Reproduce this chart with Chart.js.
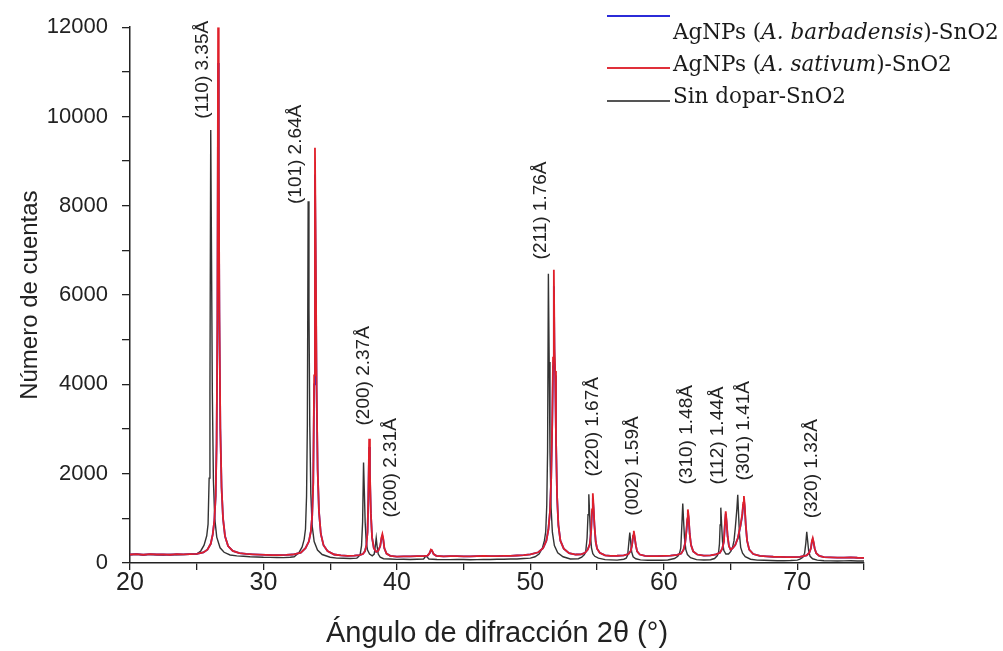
<!DOCTYPE html>
<html>
<head>
<meta charset="utf-8">
<script src="https://cdn.jsdelivr.net/npm/chart.js@4.4.1/dist/chart.umd.min.js"></script>
<style>
  html, body { margin: 0; padding: 0; background: #fff; }
  #wrap { position: relative; width: 1003px; height: 651px; }
  canvas { position: absolute; left: 0; top: 0; }
  .lg { position: absolute; font-family: "DejaVu Serif", "Liberation Serif", serif; font-size: 21.5px; color: #1a1a1a; white-space: nowrap; line-height: 1; }
  .ls { position: absolute; height: 0; border-top: 2px solid; width: 63px; left: 607px; }
</style>
</head>
<body>
<div id="wrap">
  <canvas id="c" width="1003" height="651"></canvas>
  <div class="ls" style="top:15px;border-color:#2b2bd8"></div>
  <div class="ls" style="top:67px;border-color:#e0303a"></div>
  <div class="ls" style="top:100px;border-color:#555"></div>
  <div class="lg" style="left:673px;top:21px">AgNPs (<i>A. barbadensis</i>)-SnO2</div>
  <div class="lg" style="left:673px;top:53px">AgNPs (<i>A. sativum</i>)-SnO2</div>
  <div class="lg" style="left:673px;top:85px">Sin dopar-SnO2</div>
</div>
<script>
// ---- Data: [2θ (°), counts] ----
const seriesNames = ["AgNPs (A. barbadensis)-SnO2", "AgNPs (A. sativum)-SnO2", "Sin dopar-SnO2"];

const sinDopar = [[20.0,185],[20.5,195],[21.0,180],[21.5,192],[22.0,185],[22.5,178],[23.0,190],[23.5,182],[24.0,188],[24.5,195],[25.0,200],[25.3,270],[25.55,400],[25.75,610],[25.85,870],[25.93,1900],[25.99,3800],[26.05,9700],[26.11,6800],[26.17,3800],[26.25,1850],[26.35,1000],[26.5,580],[26.75,340],[27.05,240],[27.5,180],[28.0,160],[28.5,150],[29.0,140],[29.5,135],[30.0,128],[30.5,125],[31.0,122],[31.5,120],[32.0,128],[32.3,140],[32.65,230],[32.9,360],[33.05,530],[33.15,760],[33.23,1500],[33.29,3100],[33.35,8100],[33.41,5700],[33.47,3100],[33.55,1550],[33.65,830],[33.8,480],[34.05,290],[34.4,190],[35.0,130],[35.5,110],[36.0,105],[36.5,100],[37.0,110],[37.15,150],[37.25,200],[37.35,390],[37.43,920],[37.5,2250],[37.56,1600],[37.62,920],[37.7,480],[37.8,290],[37.95,200],[38.15,160],[38.3,200],[38.39,400],[38.45,560],[38.51,390],[38.6,200],[38.75,130],[39.0,95],[39.5,88],[40.0,82],[40.5,85],[41.0,80],[41.5,84],[42.0,90],[42.15,150],[42.25,140],[42.4,90],[43.0,80],[43.5,76],[44.0,75],[44.5,78],[45.0,80],[45.5,74],[46.0,75],[46.5,79],[47.0,80],[47.5,83],[48.0,85],[48.5,88],[49.0,90],[49.5,100],[50.0,110],[50.35,140],[50.65,200],[50.9,330],[51.05,500],[51.15,700],[51.23,1300],[51.29,2500],[51.35,6480],[51.41,4500],[51.47,2500],[51.55,1250],[51.65,690],[51.8,390],[52.05,230],[52.45,140],[53.0,90],[53.6,95],[53.85,130],[54.05,190],[54.15,260],[54.25,560],[54.32,1080],[54.38,1540],[54.44,1100],[54.5,640],[54.58,340],[54.68,210],[54.83,150],[55.1,110],[55.6,75],[56.0,70],[56.5,65],[57.0,85],[57.18,110],[57.29,170],[57.39,490],[57.45,680],[57.51,500],[57.59,250],[57.7,140],[57.9,95],[58.25,70],[58.8,62],[59.3,60],[59.8,63],[60.3,68],[60.8,100],[61.05,150],[61.17,210],[61.27,330],[61.36,900],[61.42,1330],[61.48,950],[61.55,560],[61.65,300],[61.77,190],[62.0,120],[62.45,75],[63.0,68],[63.5,72],[63.8,100],[64.0,160],[64.1,230],[64.17,430],[64.22,850],[64.27,1240],[64.33,870],[64.4,470],[64.5,280],[64.65,200],[64.85,200],[65.02,260],[65.15,350],[65.26,500],[65.36,800],[65.48,1230],[65.54,1530],[65.6,1100],[65.67,640],[65.76,350],[65.9,220],[66.1,140],[66.5,85],[67.0,65],[67.5,60],[68.0,55],[68.5,52],[69.0,50],[69.5,55],[70.0,65],[70.2,85],[70.42,130],[70.55,220],[70.64,440],[70.71,700],[70.77,520],[70.85,280],[70.96,150],[71.15,95],[71.5,65],[72.0,50],[72.5,48],[73.0,45],[73.5,48],[74.0,50],[74.5,46],[75.0,45]];

const sativum = [[20.0,190],[20.5,200],[21.0,185],[21.5,198],[22.0,190],[22.5,195],[23.0,185],[23.5,200],[24.0,192],[24.5,200],[25.0,205],[25.5,235],[25.8,300],[26.05,430],[26.2,640],[26.32,950],[26.42,1500],[26.49,2700],[26.55,5500],[26.6,12000],[26.65,9000],[26.7,5600],[26.77,3000],[26.86,1700],[26.97,1000],[27.12,600],[27.35,380],[27.7,270],[28.2,220],[28.7,205],[29.2,195],[29.7,188],[30.2,182],[30.7,178],[31.2,175],[31.7,180],[32.2,190],[32.8,230],[33.15,330],[33.4,480],[33.55,700],[33.65,1050],[33.73,1800],[33.8,4200],[33.86,9300],[33.92,6900],[33.98,4000],[34.06,2100],[34.16,1150],[34.3,650],[34.5,400],[34.8,270],[35.3,190],[35.8,170],[36.3,160],[36.8,165],[37.2,175],[37.45,200],[37.6,260],[37.71,390],[37.8,700],[37.86,1500],[37.92,2780],[37.98,2000],[38.05,1100],[38.14,570],[38.27,330],[38.45,250],[38.6,270],[38.75,380],[38.85,580],[38.91,650],[38.97,560],[39.06,330],[39.22,210],[39.5,160],[40.0,145],[40.5,148],[41.0,150],[41.5,152],[42.0,155],[42.3,165],[42.45,220],[42.55,300],[42.62,290],[42.75,200],[42.95,160],[43.5,150],[44.0,152],[44.5,155],[45.0,150],[45.5,150],[46.0,156],[46.5,160],[47.0,155],[47.5,155],[48.0,158],[48.5,160],[49.0,168],[49.5,175],[50.0,195],[50.6,240],[50.95,330],[51.2,500],[51.35,750],[51.47,1150],[51.56,1900],[51.64,3200],[51.7,4600],[51.76,6570],[51.81,4800],[51.86,4300],[51.92,2800],[52.0,1500],[52.1,850],[52.25,500],[52.5,320],[52.9,220],[53.4,190],[53.8,195],[54.1,230],[54.3,300],[54.45,420],[54.55,700],[54.62,1200],[54.68,1560],[54.74,1250],[54.8,850],[54.9,470],[55.0,320],[55.2,230],[55.6,170],[56.0,160],[56.5,162],[57.0,170],[57.35,200],[57.52,270],[57.62,400],[57.7,620],[57.75,720],[57.81,600],[57.9,400],[58.0,260],[58.2,190],[58.6,160],[59.0,155],[59.5,155],[60.0,160],[60.5,165],[61.0,180],[61.3,210],[61.48,300],[61.6,450],[61.7,750],[61.76,1000],[61.8,1200],[61.86,1050],[61.94,650],[62.04,400],[62.2,260],[62.5,190],[63.0,165],[63.5,170],[63.9,195],[64.2,230],[64.38,320],[64.5,480],[64.58,900],[64.64,1160],[64.7,950],[64.78,600],[64.88,380],[65.0,300],[65.15,330],[65.35,400],[65.55,560],[65.75,850],[65.88,1100],[65.95,1350],[66.0,1500],[66.06,1300],[66.14,850],[66.24,500],[66.4,300],[66.7,200],[67.2,160],[67.7,150],[68.2,140],[68.7,135],[69.2,130],[69.7,132],[70.2,138],[70.7,170],[70.9,230],[71.02,330],[71.1,500],[71.16,560],[71.22,480],[71.3,330],[71.42,220],[71.65,160],[72.0,130],[72.5,125],[73.0,120],[73.5,122],[74.0,125],[74.5,118],[75.0,115]];

const barbadensis = [[20.0,190],[20.5,200],[21.0,185],[21.5,198],[22.0,190],[22.5,195],[23.0,185],[23.5,200],[24.0,192],[24.5,200],[25.0,205],[25.5,235],[25.8,300],[26.05,430],[26.2,640],[26.32,950],[26.42,1500],[26.49,2700],[26.55,5300],[26.6,11200],[26.65,8600],[26.7,5400],[26.77,3000],[26.86,1700],[26.97,1000],[27.12,600],[27.35,380],[27.7,270],[28.2,220],[28.7,205],[29.2,195],[29.7,188],[30.2,182],[30.7,178],[31.2,175],[31.7,180],[32.2,190],[32.8,230],[33.15,330],[33.4,480],[33.55,700],[33.65,1050],[33.73,1800],[33.8,4000],[33.86,8700],[33.92,6500],[33.98,3900],[34.06,2100],[34.16,1150],[34.3,650],[34.5,400],[34.8,270],[35.3,190],[35.8,170],[36.3,160],[36.8,165],[37.2,175],[37.45,200],[37.6,260],[37.71,390],[37.8,700],[37.86,1450],[37.92,2600],[37.98,1900],[38.05,1100],[38.14,570],[38.27,330],[38.45,250],[38.6,270],[38.75,380],[38.85,560],[38.91,610],[38.97,540],[39.06,330],[39.22,210],[39.5,160],[40.0,145],[40.5,148],[41.0,150],[41.5,152],[42.0,155],[42.3,165],[42.45,220],[42.55,290],[42.62,280],[42.75,200],[42.95,160],[43.5,150],[44.0,152],[44.5,155],[45.0,150],[45.5,150],[46.0,156],[46.5,160],[47.0,155],[47.5,155],[48.0,158],[48.5,160],[49.0,168],[49.5,175],[50.0,195],[50.6,240],[50.95,330],[51.2,500],[51.35,750],[51.47,1150],[51.56,1900],[51.64,3100],[51.7,4400],[51.76,6200],[51.81,4600],[51.86,4200],[51.92,2800],[52.0,1500],[52.1,850],[52.25,500],[52.5,320],[52.9,220],[53.4,190],[53.8,195],[54.1,230],[54.3,300],[54.45,420],[54.55,700],[54.62,1150],[54.68,1450],[54.74,1200],[54.8,850],[54.9,470],[55.0,320],[55.2,230],[55.6,170],[56.0,160],[56.5,162],[57.0,170],[57.35,200],[57.52,270],[57.62,400],[57.7,600],[57.75,680],[57.81,580],[57.9,400],[58.0,260],[58.2,190],[58.6,160],[59.0,155],[59.5,155],[60.0,160],[60.5,165],[61.0,180],[61.3,210],[61.48,300],[61.6,450],[61.7,720],[61.76,960],[61.8,1120],[61.86,1000],[61.94,650],[62.04,400],[62.2,260],[62.5,190],[63.0,165],[63.5,170],[63.9,195],[64.2,230],[64.38,320],[64.5,480],[64.58,870],[64.64,1100],[64.7,920],[64.78,600],[64.88,380],[65.0,300],[65.15,330],[65.35,400],[65.55,560],[65.75,830],[65.88,1060],[65.95,1300],[66.0,1420],[66.06,1250],[66.14,850],[66.24,500],[66.4,300],[66.7,200],[67.2,160],[67.7,150],[68.2,140],[68.7,135],[69.2,130],[69.7,132],[70.2,138],[70.7,170],[70.9,230],[71.02,330],[71.1,480],[71.16,530],[71.22,460],[71.3,330],[71.42,220],[71.65,160],[72.0,130],[72.5,125],[73.0,120],[73.5,122],[74.0,125],[74.5,118],[75.0,115]];

const xTickLabels = [20,30,40,50,60,70];
const yTickLabels = [0,2000,4000,6000,8000,10000,12000];

const peakLabels = ["(110) 3.35Å","(101) 2.64Å","(200) 2.37Å","(200) 2.31Å","(211) 1.76Å","(220) 1.67Å","(002) 1.59Å","(310) 1.48Å","(112) 1.44Å","(301) 1.41Å","(320) 1.32Å"];
const peakLabelX = [25.47,32.43,37.53,39.55,50.79,54.68,57.68,61.72,64.04,65.99,71.09];
const peakLabelY = [9950,8040,3080,1020,6800,1940,1060,1760,1760,1850,1000];

// ---- Chart ----
const toPts = arr => arr.map(p => ({x: p[0], y: p[1]}));
const FONT = '"Liberation Sans", Arial, sans-serif';

const labelPlugin = {
  id: 'peakLabels',
  afterDatasetsDraw(chart) {
    const ctx = chart.ctx, xs = chart.scales.x, ys = chart.scales.y;
    ctx.save();
    ctx.font = '19px ' + FONT;
    ctx.fillStyle = '#222';
    ctx.textAlign = 'left';
    ctx.textBaseline = 'middle';
    peakLabels.forEach((t, i) => {
      const px = xs.getPixelForValue(peakLabelX[i]);
      const py = ys.getPixelForValue(peakLabelY[i]);
      ctx.save();
      ctx.translate(px, py);
      ctx.rotate(-Math.PI / 2);
      ctx.fillText(t, 0, 0);
      ctx.restore();
    });
    ctx.restore();
  }
};

new Chart(document.getElementById('c'), {
  type: 'line',
  data: {
    datasets: [
      { label: seriesNames[1], data: toPts(sativum), borderColor: '#e0202a', borderWidth: 1.8, pointRadius: 0, tension: 0, order: 1 },
      { label: seriesNames[0], data: toPts(barbadensis), borderColor: '#2b2bd8', borderWidth: 1.8, pointRadius: 0, tension: 0, order: 2 },
      { label: seriesNames[2], data: toPts(sinDopar), borderColor: '#333', borderWidth: 1.4, pointRadius: 0, tension: 0, order: 3 }
    ]
  },
  options: {
    responsive: false,
    animation: false,
    events: [],
    layout: { padding: { left: 0, top: 25, right: 139, bottom: 0 } },
    plugins: { legend: { display: false }, tooltip: { enabled: false } },
    scales: {
      x: {
        type: 'linear', min: 20, max: 75,
        afterBuildTicks: s => { s.ticks = []; for (let v = 20; v <= 75; v += 5) s.ticks.push({value: v}); },
        ticks: { callback: v => xTickLabels.includes(v) ? String(v) : '', color: '#222', font: { family: FONT, size: 25 }, padding: -2, maxRotation: 0, autoSkip: false },
        grid: { drawOnChartArea: false, drawTicks: true, tickLength: 7, color: '#222', lineWidth: 1.3 },
        border: { display: true, color: '#222', width: 1.5 },
        title: { display: true, text: 'Ángulo de difracción 2θ (°)', color: '#222', font: { family: FONT, size: 29 }, padding: { top: 0, bottom: 0 } },
        afterFit: s => { s.height = 88; }
      },
      y: {
        type: 'linear', min: 0, max: 12000,
        afterBuildTicks: s => { s.ticks = []; for (let v = 0; v <= 12000; v += 1000) s.ticks.push({value: v}); },
        ticks: { callback: v => yTickLabels.includes(v) ? String(v) : '', color: '#222', font: { family: FONT, size: 22 }, padding: 14, autoSkip: false },
        grid: { drawOnChartArea: false, drawTicks: true, tickLength: 8, color: '#222', lineWidth: 1.3 },
        border: { display: true, color: '#222', width: 1.5 },
        title: { display: true, text: 'Número de cuentas', color: '#222', font: { family: FONT, size: 24 }, padding: { top: 16, bottom: 0 } },
        afterFit: s => { s.width = 130; }
      }
    }
  },
  plugins: [labelPlugin]
});
</script>
</body>
</html>
